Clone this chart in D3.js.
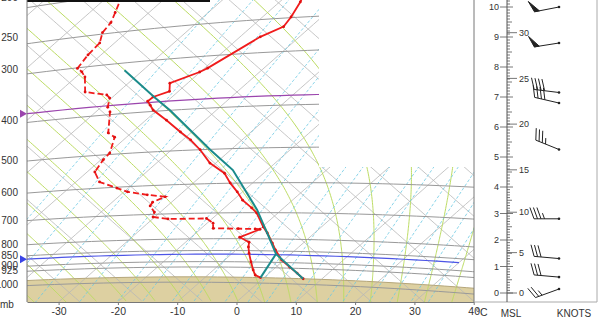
<!DOCTYPE html>
<html>
<head>
<meta charset="utf-8">
<script src="https://cdn.jsdelivr.net/npm/d3@7"></script>
<style>
  body { margin: 0; background: #fff; }
  svg text { font-family: "Liberation Sans", Arial, sans-serif; fill: #333; }
</style>
</head>
<body>
<svg id="chart" width="600" height="329"></svg>
<script>
// ---- sounding (hPa, degC) ----
const tempP = [973, 947, 920, 889, 845, 817, 776, 753, 701, 683, 656, 628, 599, 569, 538, 500, 473, 452, 422, 397, 386, 377, 369, 360, 344, 327, 321, 275, 262, 249, 230, 221];
const tempT = [6.8, 4.7, 2.3, -0.4, -3.4, -5.2, -8.0, -9.8, -13.6, -15.4, -18.4, -20.9, -23.8, -26.6, -31.0, -35.2, -38.7, -41.9, -46.5, -50.7, -52.1, -53.3, -53.2, -51.5, -53.0, -50.1, -49.5, -46.6, -44.6, -45.2, -46.5, -47.3];

const dewP = [973, 961, 937, 900, 861, 834, 814, 794, 762, 761, 760, 758, 738, 720, 719, 710, 692, 669, 656, 639, 630, 617, 603, 580, 548, 514, 496, 455, 443, 394, 383, 364, 357, 347, 318, 308, 301, 280, 263, 248, 235, 222, 206, 201];
const dewT = [-0.6, -2.0, -3.3, -5.2, -7.2, -8.5, -9.3, -11.8, -9.9, -10.8, -13.7, -18.0, -19.0, -21.0, -27.4, -30.3, -31.0, -32.9, -33.2, -32.1, -35.5, -39.4, -41.9, -46.0, -48.7, -49.6, -49.8, -52.0, -53.9, -57.6, -58.9, -60.3, -61.4, -65.6, -68.5, -70.0, -71.4, -72.2, -72.5, -74.0, -74.5, -75.7, -77.3, -77.9];
const dewSolidBelow = 790;   // dew point drawn solid under this level

// lifted parcel: surface -> LCL (dry), then saturated ascent
const parcelP = [973, 863, 784, 690, 560, 501, 474, 400, 370, 313];
const parcelT = [6.8, -2.5, -7.5, -14.1, -25.8, -33.5, -37.1, -47.8, -52.9, -63.1];

const lclP = 866;
const elP = 380;
const surfaceP = 973;

// background lines
const isobars = [1000, 925, 900, 850, 800, 700, 600, 500, 400, 300, 250, 200, 150];
const isotherms = d3.range(-140, 50, 10);
const dryAdiabats = d3.range(210, 430, 10);        // theta, K
const satAdiabats = d3.range(-45, 45, 5);          // theta-w, degC
const mixRatios = [0.05, 0.1, 0.2, 0.4, 0.7, 1, 1.5, 2, 3, 4, 5, 7, 10, 12, 16, 20, 25, 30];

// axis labels
const pLabels = [1000, 925, 900, 850, 800, 700, 600, 500, 400, 300, 250, 200];
const tTicks = [-30, -20, -10, 0, 10, 20, 30, 40];

// right panel: height (km), height (kft), winds
const kmTicks = d3.range(0, 11);
const kftTicks = [0, 5, 10, 15, 20, 25, 30];
const windH = [0.15, 0.6, 1.3, 2.8, 5.25, 6.8, 7.15, 8.8, 10.0];
const windDir = [250, 275, 275, 270, 292, 283, 277, 261, 259];
const windSpd = [25, 30, 30, 35, 35, 40, 40, 50, 50];

// ---- tephigram projection ----
const plot = { left: 27, right: 474, top: 0, bottom: 302 };
const kappa = 0.286, S = 260;
// T + phi runs to the right, phi - T runs up
const sx = d3.scaleLinear().domain([0, 100]).range([258, 258 + 296.5]);
const sy = d3.scaleLinear().domain([0, 100]).range([283, 283 - 262]);

function phi(p, T) {
	return S * Math.log((T + 273.15) * Math.pow(1000 / p, kappa) / 273.15);
}
function proj(p, T) {
	const f = phi(p, T);
	return [sx(T + f), sy(f - T)];
}
const pSteps = d3.range(0, 121).map((i) => 1100 * Math.pow(100 / 1100, i / 120));

function esat(T) { return 6.112 * Math.exp(17.67 * T / (T + 243.5)); }
function moistRate(p, T) {
	const Tk = T + 273.15, es = esat(T), rs = 0.622 * es / (p - es);
	return (287.04 * Tk + 2.501e6 * rs) /
		(p * (1005.7 + 2.501e6 * 2.501e6 * rs * 0.622 / (287.04 * Tk * Tk)));
}
function moistLine(thw) {
	let up = [], down = [], T = thw;
	for (let p = 1000; p >= 100; p -= 5) {
		up.push([p, T]);
		const k1 = moistRate(p, T);
		const k2 = moistRate(p - 2.5, T - 2.5 * k1);
		T -= 5 * k2;
	}
	T = thw;
	for (let p = 1000; p <= 1100; p += 5) {
		down.unshift([p, T]);
		const k1 = moistRate(p, T);
		const k2 = moistRate(p + 2.5, T + 2.5 * k1);
		T += 5 * k2;
	}
	return down.concat(up.slice(1));
}
function mixLine(w) {
	return pSteps.filter((p) => p >= 150).map((p) => {
		const e = (w / 1000) * p / (0.622 + w / 1000);
		const a = Math.log(e / 6.112);
		return [p, 243.5 * a / (17.67 - a)];
	});
}
function isobarLine(p) {
	return d3.range(-160, 70, 2).map((T) => [p, T]);
}

const line = d3.line().x((d) => proj(d[0], d[1])[0]).y((d) => proj(d[0], d[1])[1]);

const svg = d3.select('#chart');

svg.append('clipPath').attr('id', 'plotclip')
	.append('rect')
	.attr('x', plot.left).attr('y', plot.top)
	.attr('width', plot.right - plot.left).attr('height', plot.bottom - plot.top);

const g = svg.append('g').attr('clip-path', 'url(#plotclip)');

// ground below surface pressure
const groundPts = isobarLine(surfaceP).map((d) => proj(d[0], d[1]));
groundPts.push([plot.right + 50, plot.bottom + 20], [plot.left - 50, plot.bottom + 20]);
g.append('path')
	.attr('d', 'M' + groundPts.join('L') + 'Z')
	.style('fill', '#ddd0a1');

// isotherms and dry adiabats
g.selectAll('.isotherm').data(isotherms).enter().append('path')
	.attr('d', (t) => line(pSteps.map((p) => [p, t])))
	.style('fill', 'none').style('stroke', '#b7b7b7').style('stroke-width', 0.8);

g.selectAll('.dry').data(dryAdiabats).enter().append('path')
	.attr('d', (th) => line(pSteps.map((p) => [p, th * Math.pow(p / 1000, kappa) - 273.15])))
	.style('fill', 'none').style('stroke', '#b7b7b7').style('stroke-width', 0.8);

// saturated adiabats
g.selectAll('.sat').data(satAdiabats).enter().append('path')
	.attr('d', (thw) => line(moistLine(thw)))
	.style('fill', 'none').style('stroke', '#bcdc62').style('stroke-width', 1);

// mixing ratio lines
g.selectAll('.mix').data(mixRatios).enter().append('path')
	.attr('d', (w) => line(mixLine(w)))
	.style('fill', 'none').style('stroke', '#6cc9e3').style('stroke-width', 0.8)
	.style('stroke-dasharray', '3,2');

// isobars
g.selectAll('.isobar').data(isobars).enter().append('path')
	.attr('d', (p) => line(isobarLine(p)))
	.style('fill', 'none').style('stroke', '#999').style('stroke-width', 1);

// ground top
g.append('path')
	.attr('d', line(isobarLine(surfaceP)))
	.style('fill', 'none').style('stroke', '#b5a67a').style('stroke-width', 1);

// EL line (covered at right by the blank box)
g.append('path')
	.attr('d', line(isobarLine(elP)))
	.style('fill', 'none').style('stroke', '#9b45ad').style('stroke-width', 1.2);

// blank box top right
g.append('rect')
	.attr('x', 319).attr('y', 0).attr('width', 160).attr('height', 167)
	.style('fill', '#fff');

// LCL line
g.append('path')
	.attr('d', line(isobarLine(lclP).filter((d) => proj(d[0], d[1])[0] <= 463)))
	.style('fill', 'none').style('stroke', '#4d55e6').style('stroke-width', 1.2);

// temperature
g.append('path')
	.attr('d', line(tempP.map((p, i) => [p, tempT[i]])))
	.style('fill', 'none').style('stroke', '#f01c1c').style('stroke-width', 1.8);

// dew point: solid low down, dashed above
const dew = dewP.map((p, i) => [p, dewT[i]]);
const split = dewP.findIndex((p) => p < dewSolidBelow);
g.append('path')
	.attr('d', line(dew.slice(0, split + 1)))
	.style('fill', 'none').style('stroke', '#f01c1c').style('stroke-width', 1.8);
g.append('path')
	.attr('d', line(dew.slice(split)))
	.style('fill', 'none').style('stroke', '#f01c1c').style('stroke-width', 1.8)
	.style('stroke-dasharray', '6,3');

g.selectAll('.tdot').data(tempP.map((p, i) => [p, tempT[i]]).concat(dew)).enter()
	.append('circle')
	.attr('cx', (d) => proj(d[0], d[1])[0]).attr('cy', (d) => proj(d[0], d[1])[1])
	.attr('r', 1.4).style('fill', '#e01010');

// parcel path
const parcel = parcelP.map((p, i) => [p, parcelT[i]]);
g.append('path')
	.attr('d', line(parcel))
	.style('fill', 'none').style('stroke', '#1b8b8b').style('stroke-width', 2);
g.append('path')
	.attr('d', line([[dewP[0], dewT[0]], parcel[1]]))
	.style('fill', 'none').style('stroke', '#1b8b8b').style('stroke-width', 2);

// frame
svg.append('rect').attr('x', plot.left).attr('y', -1).attr('width', 183).attr('height', 3)
	.style('fill', '#111');
svg.append('line').attr('x1', plot.left).attr('x2', plot.left).attr('y1', 0).attr('y2', plot.bottom)
	.style('stroke', '#777');
svg.append('line').attr('x1', plot.right).attr('x2', plot.right).attr('y1', 0).attr('y2', plot.bottom)
	.style('stroke', '#777');

// temperature axis along the bottom edge
const base = sy.invert(plot.bottom);
const tAt = (x) => (sx.invert(x) - base) / 2;
const tScale = d3.scaleLinear().domain([tAt(plot.left), tAt(plot.right)]).range([plot.left, plot.right]);
const xAxis = svg.append('g')
	.attr('transform', `translate(0,${plot.bottom})`)
	.call(d3.axisBottom(tScale).tickValues(tTicks).tickSize(3).tickSizeOuter(0)
		.tickFormat((d) => String(d)));
xAxis.select('.domain').style('stroke', '#777');
xAxis.selectAll('.tick line').style('stroke', '#777');
xAxis.selectAll('.tick text').style('font-size', '10.5px').style('fill', '#333');
svg.append('text').attr('x', tScale(40) + 2).attr('y', 316).style('font-size', '10.5px').text('°C');

// pressure labels
const pLabelY = d3.scaleLog().domain([1000, 250]).range([284, 37]);
svg.selectAll('.plab').data(pLabels).enter().append('text')
	.attr('x', 18).attr('y', (p) => pLabelY(p)).attr('dy', '0.35em')
	.attr('text-anchor', 'end').style('font-size', '10px')
	.text((p) => p);
svg.append('text').attr('x', 0).attr('y', 308).style('font-size', '10px').text('mb');

// level markers at left edge
function yAtLeft(p) {
	let lo = -160, hi = 80;
	for (let i = 0; i < 40; i++) {
		const mid = (lo + hi) / 2;
		if (proj(p, mid)[0] < plot.left) lo = mid; else hi = mid;
	}
	return proj(p, lo)[1];
}
[[elP, '#9b45ad'], [lclP, '#3a44e6']].forEach(([p, c]) => {
	const y = yAtLeft(p);
	svg.append('path').attr('d', `M20,${y - 4}L27,${y}L20,${y + 4}Z`).style('fill', c);
});

// ---- right panel: height scale and wind barbs ----
const panel = { left: plot.right, right: 597, axisX: 507, stationX: 559 };
const hScale = d3.scaleLinear().domain([0, 4, 10]).range([293, 187, 7]);

svg.append('line').attr('x1', panel.right).attr('x2', panel.right).attr('y1', 0).attr('y2', plot.bottom)
	.style('stroke', '#aaa');
svg.append('line').attr('x1', panel.left).attr('x2', panel.right).attr('y1', plot.bottom).attr('y2', plot.bottom)
	.style('stroke', '#aaa');
svg.append('line').attr('x1', panel.axisX).attr('x2', panel.axisX).attr('y1', 0).attr('y2', plot.bottom)
	.style('stroke', '#555');

d3.range(0, 103).map((i) => i / 10).forEach((h) => {
	const y = hScale(h);
	const whole = Math.abs(h - Math.round(h)) < 1e-6;
	const half = Math.abs(h * 2 - Math.round(h * 2)) < 1e-6;
	svg.append('line')
		.attr('x1', whole ? panel.axisX - 7 : panel.axisX)
		.attr('x2', panel.axisX + (whole ? 6 : half ? 5 : 3))
		.attr('y1', y).attr('y2', y)
		.style('stroke', '#555').style('stroke-width', 0.8);
});
svg.selectAll('.km').data(kmTicks).enter().append('text')
	.attr('x', panel.axisX - 8).attr('y', (h) => hScale(h)).attr('dy', '0.35em')
	.attr('text-anchor', 'end').style('font-size', '9px').text((h) => h);
kftTicks.forEach((k) => {
	const y = hScale(k * 0.3048);
	svg.append('line').attr('x1', panel.axisX).attr('x2', panel.axisX + 10).attr('y1', y).attr('y2', y)
		.style('stroke', '#555').style('stroke-width', 0.8);
	svg.append('text').attr('x', panel.axisX + 12).attr('y', y).attr('dy', '0.35em')
		.style('font-size', '9px').text(k);
});
svg.append('text').attr('x', 511).attr('y', 317).attr('text-anchor', 'middle').style('font-size', '10px').text('MSL');
svg.append('text').attr('x', 574).attr('y', 317).attr('text-anchor', 'middle').style('font-size', '10px').text('KNOTS');

function drawBarb(x, y, dir, spd) {
	const r = dir * Math.PI / 180;
	const u = [Math.sin(r), -Math.cos(r)];
	const n = [-u[1], u[0]];
	const f = [0.34 * u[0] + 0.94 * n[0], 0.34 * u[1] + 0.94 * n[1]];
	const L = 25, fl = 12;
	const tail = [x + u[0] * L, y + u[1] * L];
	const at = (s) => [tail[0] - u[0] * s, tail[1] - u[1] * s];
	const bg = svg.append('g').style('stroke', '#222').style('stroke-width', 1);
	bg.append('line').attr('x1', x).attr('y1', y).attr('x2', tail[0]).attr('y2', tail[1]);
	let rest = Math.round(spd / 5) * 5, s = 0;
	while (rest >= 50) {
		const a = at(s), b = at(s + 5);
		bg.append('path')
			.attr('d', `M${a}L${a[0] + f[0] * fl},${a[1] + f[1] * fl}L${b}Z`)
			.style('fill', '#222');
		s += 6; rest -= 50;
	}
	while (rest >= 10) {
		const a = at(s);
		bg.append('line').attr('x1', a[0]).attr('y1', a[1])
			.attr('x2', a[0] + f[0] * fl).attr('y2', a[1] + f[1] * fl);
		s += 3.5; rest -= 10;
	}
	if (rest >= 5) {
		const a = at(s);
		bg.append('line').attr('x1', a[0]).attr('y1', a[1])
			.attr('x2', a[0] + f[0] * fl / 2).attr('y2', a[1] + f[1] * fl / 2);
	}
	svg.append('circle').attr('cx', x).attr('cy', y).attr('r', 1.3).style('fill', '#222');
}
windH.forEach((h, i) => drawBarb(panel.stationX, hScale(h), windDir[i], windSpd[i]));
</script>
</body>
</html>
